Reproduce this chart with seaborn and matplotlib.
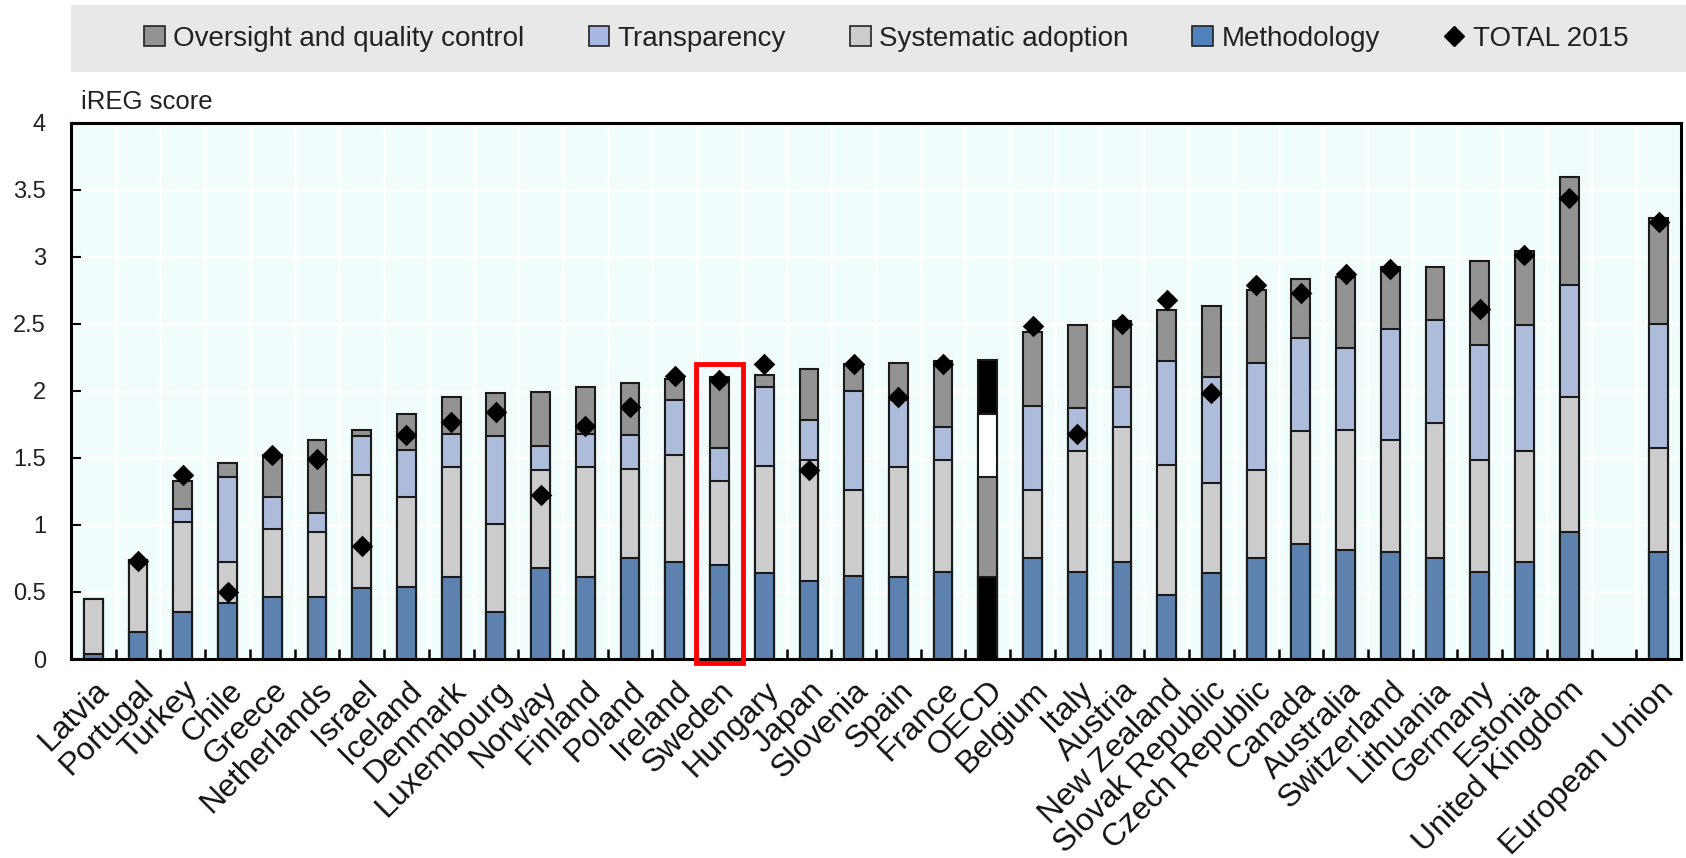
import matplotlib
matplotlib.use('Agg')
import matplotlib.pyplot as plt
import matplotlib.patches as mpatches
from matplotlib.lines import Line2D
from matplotlib.ticker import MultipleLocator, FuncFormatter
from matplotlib import font_manager
import numpy as np
import pandas as pd
import seaborn as sns

countries = ['Latvia', 'Portugal', 'Turkey', 'Chile', 'Greece', 'Netherlands', 'Israel',
             'Iceland', 'Denmark', 'Luxembourg', 'Norway', 'Finland', 'Poland', 'Ireland',
             'Sweden', 'Hungary', 'Japan', 'Slovenia', 'Spain', 'France', 'OECD', 'Belgium',
             'Italy', 'Austria', 'New Zealand', 'Slovak Republic', 'Czech Republic', 'Canada',
             'Australia', 'Switzerland', 'Lithuania', 'Germany', 'Estonia', 'United Kingdom',
             'European Union']
methodology = [0.04, 0.20, 0.35, 0.42, 0.46, 0.46, 0.53, 0.54, 0.61, 0.35, 0.68, 0.61, 0.75,
               0.72, 0.70, 0.64, 0.58, 0.62, 0.61, 0.65, 0.61, 0.75, 0.65, 0.72, 0.48, 0.64,
               0.75, 0.86, 0.81, 0.80, 0.75, 0.65, 0.72, 0.95, 0.80]
systematic = [0.41, 0.54, 0.67, 0.30, 0.51, 0.49, 0.84, 0.67, 0.82, 0.66, 0.73, 0.82, 0.67,
              0.80, 0.63, 0.80, 0.90, 0.64, 0.82, 0.83, 0.75, 0.51, 0.90, 1.01, 0.97, 0.67,
              0.66, 0.84, 0.90, 0.83, 1.01, 0.83, 0.83, 1.00, 0.77]
transparency = [0.00, 0.00, 0.10, 0.64, 0.24, 0.14, 0.29, 0.35, 0.25, 0.65, 0.18, 0.25, 0.25,
                0.41, 0.24, 0.59, 0.30, 0.74, 0.50, 0.25, 0.47, 0.63, 0.32, 0.30, 0.77, 0.79,
                0.80, 0.69, 0.61, 0.83, 0.77, 0.86, 0.94, 0.84, 0.93]
oversight = [0.00, 0.00, 0.21, 0.10, 0.31, 0.54, 0.05, 0.27, 0.27, 0.32, 0.40, 0.35, 0.39,
             0.16, 0.53, 0.09, 0.38, 0.20, 0.28, 0.49, 0.40, 0.55, 0.62, 0.49, 0.38, 0.53,
             0.54, 0.44, 0.53, 0.46, 0.39, 0.63, 0.55, 0.80, 0.79]
total_2015 = [np.nan, 0.73, 1.37, 0.50, 1.52, 1.49, 0.84, 1.67, 1.77, 1.84, 1.22, 1.74, 1.88,
              2.11, 2.08, 2.20, 1.41, 2.20, 1.95, 2.20, np.nan, 2.48, 1.68, 2.50, 2.68, 1.98,
              2.79, 2.73, 2.87, 2.91, np.nan, 2.61, 3.01, 3.44, 3.26]

# empty slot between United Kingdom and European Union
order = countries[:-1] + [' '] + countries[-1:]

df = pd.DataFrame({'country': countries, 'm': methodology, 's': systematic,
                   't': transparency, 'o': oversight, 'total': total_2015})
df['c1'] = df['m']
df['c2'] = df['c1'] + df['s']
df['c3'] = df['c2'] + df['t']
df['c4'] = df['c3'] + df['o']

col_meth = '#4f81bd'
col_sys = '#cccccc'
col_tra = '#a7b9e3'
col_ovs = '#939393'

# narrow face if there is one, same widths either way
names = {f.name for f in font_manager.fontManager.ttflist}
if 'Liberation Sans Narrow' in names:
    plt.rcParams['font.family'] = ['Liberation Sans Narrow', 'DejaVu Sans']
    k = 1.2
else:
    plt.rcParams['font.family'] = ['Liberation Sans', 'DejaVu Sans']
    k = 1.0

fig = plt.figure(figsize=(16.86, 8.58), dpi=100)
ax = fig.add_axes([71 / 1686, 1 - 659 / 858, (1681 - 71) / 1686, (659 - 122.5) / 858])
ax.set_facecolor('#f1fdfd')

# stacked bars drawn as overlapping cumulative bars, tallest first
layers = [('c4', col_ovs, 'black'), ('c3', col_tra, 'white'),
          ('c2', col_sys, '#939393'), ('c1', col_meth, 'black')]
for col, color, oecd_color in layers:
    pal = {c: (oecd_color if c == 'OECD' else color) for c in countries}
    sns.barplot(data=df, x='country', y=col, hue='country', palette=pal, order=order,
                legend=False, width=0.42, edgecolor='#1a1a1a', linewidth=1.5,
                errorbar=None, ax=ax, zorder=2)

sns.stripplot(data=df, x='country', y='total', order=order, jitter=False, marker='D',
              color='black', size=11, ax=ax, zorder=5)

ax.set_xlim(-0.5, len(order) - 0.5)
ax.set_ylim(0, 4)
ax.set_xlabel('')
ax.set_ylabel('')

ax.yaxis.set_major_locator(MultipleLocator(0.5))
ax.yaxis.set_major_formatter(FuncFormatter(lambda v, p: '%g' % v))
ax.tick_params(axis='y', direction='in', length=7, width=1.5, pad=18,
               labelsize=17 * k, labelcolor='#222222')

ax.set_xticks(range(len(order)))
ax.set_xticklabels(order, rotation=45, ha='right', rotation_mode='anchor')
ax.set_xticks(np.arange(0.5, len(order) - 1, 1), minor=True)
ax.tick_params(axis='x', which='major', length=0, pad=12, labelsize=23 * k, labelcolor='#111111')
ax.tick_params(axis='x', which='minor', direction='in', length=7, width=1.8)

ax.grid(which='major', axis='y', color='white', lw=1.8)
ax.grid(which='minor', axis='x', color='white', lw=1.8)
ax.set_axisbelow(True)
for s in ax.spines.values():
    s.set_linewidth(2.2)
    s.set_color('black')

# red highlight round Sweden
idx = order.index('Sweden')
top = df.loc[df['country'] == 'Sweden', 'c4'].iloc[0]
ax.add_patch(mpatches.Rectangle((idx - 0.52, -0.03), 1.04, top + 0.13, fill=False,
                                edgecolor='#ff0000', linewidth=3.5, clip_on=False, zorder=6))

fig.text(81 / 1686, 1 - 102 / 858, 'iREG score', fontsize=18.5 * k, va='center', color='#222222')

# legend band
fig.patches.append(mpatches.Rectangle((71 / 1686, 1 - 72 / 858), (1686 - 71) / 1686, 67 / 858,
                                      transform=fig.transFigure, facecolor='#e8e8e8',
                                      edgecolor='none', zorder=0))
handles = [mpatches.Patch(facecolor=col_ovs, edgecolor='#222222', linewidth=1.2,
                          label='Oversight and quality control'),
           mpatches.Patch(facecolor=col_tra, edgecolor='#222222', linewidth=1.2, label='Transparency'),
           mpatches.Patch(facecolor=col_sys, edgecolor='#222222', linewidth=1.2,
                          label='Systematic adoption'),
           mpatches.Patch(facecolor=col_meth, edgecolor='#222222', linewidth=1.2, label='Methodology'),
           Line2D([], [], marker='D', color='black', linestyle='none', markersize=10,
                  label='TOTAL 2015')]
fig.legend(handles=handles, loc='center', bbox_to_anchor=(((133 + 1640) / 2) / 1686, 1 - 38.5 / 858),
           ncol=5, frameon=False, fontsize=20 * k, handlelength=0.75 / k, handleheight=0.75 / k,
           handletextpad=0.3 / k, columnspacing=2.3 / k, labelcolor='#222222')

fig.savefig('out.png', dpi=100)
